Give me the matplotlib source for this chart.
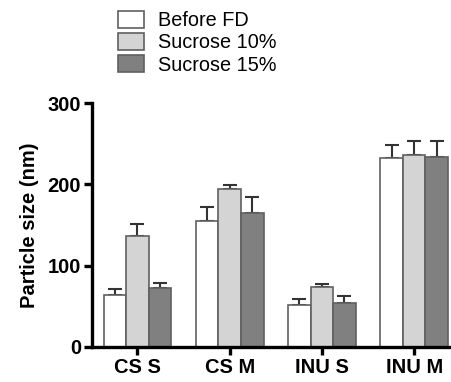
import numpy as np
import matplotlib.pyplot as plt

plt.rcParams['font.family'] = ['Liberation Sans', 'DejaVu Sans']

groups = ['CS S', 'CS M', 'INU S', 'INU M']
series = ['Before FD', 'Sucrose 10%', 'Sucrose 15%']
before_fd = [64, 155, 51, 232]
sucrose10 = [137, 194, 74, 236]
sucrose15 = [72, 165, 54, 234]
err_before = [7, 17, 8, 16]
err_suc10 = [14, 5, 3, 18]
err_suc15 = [6, 19, 8, 19]
colors = ['white', '#d4d4d4', '#808080']

values = [before_fd, sucrose10, sucrose15]
errors = [err_before, err_suc10, err_suc15]

fig = plt.figure(figsize=(4.52, 3.82), dpi=100)
ax = fig.add_axes([0.204, 0.092, 0.80, 0.638])

x = np.arange(len(groups))
w = 0.245
for i in range(3):
    ax.bar(x + (i - 1) * w, values[i], w, color=colors[i], edgecolor='#606060',
           linewidth=1.2, label=series[i], zorder=2)
    ax.errorbar(x + (i - 1) * w, values[i], yerr=[np.zeros(4), errors[i]],
                fmt='none', ecolor='#333333', elinewidth=1.5, capsize=5,
                capthick=1.5, zorder=1)

ax.set_xlim(-0.49, 3.43)
ax.set_ylim(0, 300)
ax.set_yticks([0, 100, 200, 300])
ax.set_xticks(x)
ax.set_xticklabels(groups)
for lab in ax.get_xticklabels() + ax.get_yticklabels():
    lab.set_fontweight('bold')
    lab.set_fontsize(14.5)
ax.set_ylabel('Particle size (nm)', fontsize=14.5, fontweight='bold', labelpad=6)

for s in ['top', 'right']:
    ax.spines[s].set_visible(False)
for s in ['left', 'bottom']:
    ax.spines[s].set_linewidth(2.4)
ax.tick_params(width=2.4, length=6, pad=2)

fig.legend(loc='upper left', bbox_to_anchor=(0.243, 0.993), frameon=False,
           fontsize=14.3, handlelength=1.3, handleheight=0.95, handletextpad=0.75,
           labelspacing=0.15, borderaxespad=0.0)

fig.savefig('out.png', dpi=100)
